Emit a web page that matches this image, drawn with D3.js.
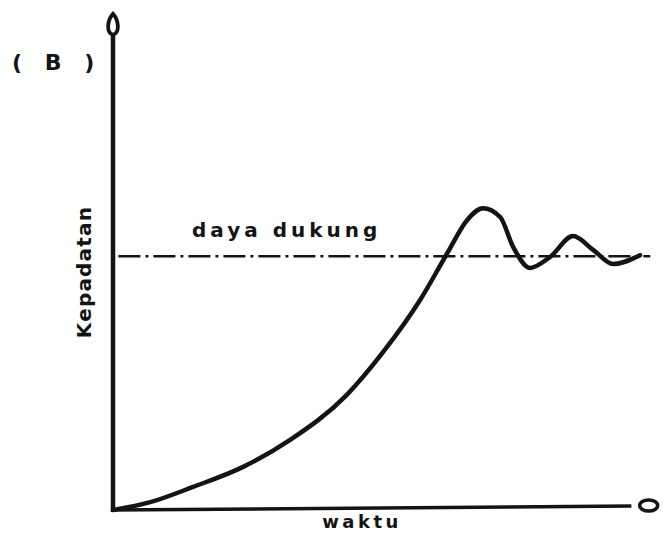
<!DOCTYPE html>
<html><head><meta charset="utf-8">
<script src="https://cdn.jsdelivr.net/npm/d3@7"></script>
<style>body{margin:0;background:#fff}svg{display:block}</style>
</head><body>
<script>
// data (time, density) in arbitrary 0-100 units
const waktu =     [0, 6.9, 14.8, 24.1, 32.8, 43.3, 50.0, 56.9, 61.9, 65.6, 68.5, 71.7, 74.1, 77.2, 80.9, 85.2, 88.9, 92.6, 97.6];
const kepadatan = [0, 1.6, 4.7, 8.8, 14.3, 23.5, 32.2, 42.9, 52.4, 59.2, 61.6, 59.8, 53.7, 49.4, 51.6, 55.9, 53.1, 50.2, 52];
const dayaDukung = 51.8;
const labels = {title: "( B )", capacity: "daya dukung", yLabel: "Kepadatan", xLabel: "waktu"};

const W = 664, H = 534;
const svg = d3.select("body").append("svg").attr("width", W).attr("height", H);
const x = d3.scaleLinear().domain([0, 100]).range([113, 653]);
const y = d3.scaleLinear().domain([0, 100]).range([510, 20]);
const ink = "#141414";

// dash-dot carrying capacity line
svg.append("line")
  .attr("x1", x(1)).attr("x2", x(99.5))
  .attr("y1", y(dayaDukung)).attr("y2", y(dayaDukung))
  .attr("stroke", ink).attr("stroke-width", 2.6)
  .attr("stroke-dasharray", "22,5,3,5");

// axes
svg.append("line").attr("x1", x(0)).attr("x2", x(0)).attr("y1", y(0)+2).attr("y2", y(97))
  .attr("stroke", ink).attr("stroke-width", 4.5);
svg.append("line").attr("x1", x(0)-2).attr("x2", x(96)).attr("y1", y(0)).attr("y2", y(0)-4)
  .attr("stroke", ink).attr("stroke-width", 3.5);

// y arrow head (teardrop)
const ax = x(0), ay = y(98);
svg.append("path")
  .attr("d", `M${ax},${ay-16} C${ax+6},${ay-9} ${ax+7},${ay+3} ${ax},${ay+5} C${ax-7},${ay+3} ${ax-6},${ay-9} ${ax},${ay-16} Z`)
  .attr("fill", "#fff").attr("stroke", ink).attr("stroke-width", 3.8);
// x arrow end (ellipse)
svg.append("ellipse").attr("cx", x(99.2)).attr("cy", y(0)-4.5).attr("rx", 9).attr("ry", 5.5)
  .attr("fill", "#fff").attr("stroke", ink).attr("stroke-width", 3.5);

// curve
const line = d3.line().x((d, i) => x(waktu[i])).y(d => y(d)).curve(d3.curveMonotoneX);
svg.append("path").datum(kepadatan).attr("d", line)
  .attr("fill", "none").attr("stroke", ink).attr("stroke-width", 4.5)
  .attr("stroke-linecap", "round").attr("stroke-linejoin", "round");

// texts
const font = "DejaVu Sans";
const txt = (s) => s.attr("font-family", font).attr("font-weight", "bold").attr("fill", ink);
txt(svg.append("text").attr("x", 12).attr("y", 70).text(labels.title)
  .attr("font-size", 22).attr("letter-spacing", 7.5).style("white-space", "pre"));
txt(svg.append("text").attr("x", 192).attr("y", 237).text(labels.capacity)
  .attr("font-size", 20).attr("letter-spacing", 4));
txt(svg.append("text").attr("transform", `translate(91,272) rotate(-90)`).attr("text-anchor", "middle")
  .text(labels.yLabel).attr("font-size", 20).attr("letter-spacing", 1.2));
txt(svg.append("text").attr("x", 362).attr("y", 528).attr("text-anchor", "middle").text(labels.xLabel)
  .attr("font-size", 18).attr("letter-spacing", 3.5));
</script>
</body></html>
